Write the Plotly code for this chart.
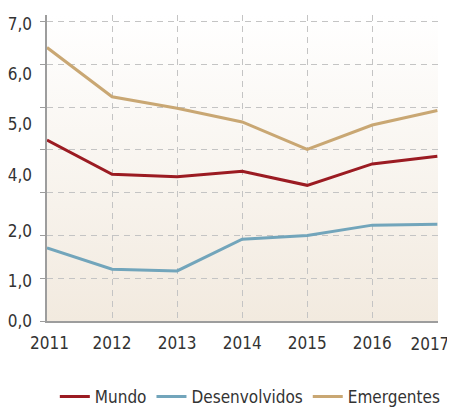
import base64
import plotly.graph_objects as go

# --- data ---
years = [2011, 2012, 2013, 2014, 2015, 2016, 2017]
mundo = [4.23, 3.43, 3.37, 3.50, 3.17, 3.67, 3.85]
desenvolvidos = [1.71, 1.21, 1.17, 1.91, 2.00, 2.24, 2.26]
emergentes = [6.39, 5.24, 4.97, 4.65, 4.01, 4.58, 4.92]

# the source prints its y labels slightly off the grid (and skips 3,0)
ylabel_pos = [6.93, 5.76, 4.61, 3.42, 2.10, 0.93, 0.0]
ylabel_text = ["7,0", "6,0", "5,0", "4,0", "2,0", "1,0", "0,0"]

NBSP = "\u00a0"
xtick_text = [str(y) for y in years]
xtick_text[0] = NBSP + xtick_text[0]

COLOR_MUNDO = "#9b1b22"
COLOR_DESENV = "#72a5bb"
COLOR_EMERG = "#c9a773"
COLOR_GRID = "#c4c4c4"
COLOR_AXIS = "#9d9d9d"
COLOR_TEXT = "#333333"
FONT = "DejaVu Sans Condensed"

# the page body keeps its default 8px margin, so the figure is sized to fit
PAGE_OFFSET = 8

# vertical white -> beige gradient for the plot background
svg = (
    '<svg xmlns="http://www.w3.org/2000/svg" width="10" height="100" preserveAspectRatio="none">'
    '<defs><linearGradient id="g" x1="0" y1="0" x2="0" y2="1">'
    '<stop offset="0" stop-color="#ffffff"/><stop offset="1" stop-color="#f2eadf"/>'
    '</linearGradient></defs><rect width="10" height="100" fill="url(#g)"/></svg>'
)
bg_src = "data:image/svg+xml;base64," + base64.b64encode(svg.encode()).decode()

fig = go.Figure()
for name, vals, color in [
    ("Mundo", mundo, COLOR_MUNDO),
    ("Desenvolvidos", desenvolvidos, COLOR_DESENV),
    ("Emergentes", emergentes, COLOR_EMERG),
]:
    fig.add_trace(go.Scatter(
        x=years, y=vals, mode="lines", name=name,
        line=dict(color=color, width=3),
        hoverinfo="skip",
    ))

# invisible traces carrying the offset y labels and the last year label
fig.add_trace(go.Scatter(x=[years[0]], y=[0], yaxis="y2", mode="markers",
                         marker=dict(opacity=0), showlegend=False, hoverinfo="skip"))
fig.add_trace(go.Scatter(x=[years[-1]], y=[0], xaxis="x2", mode="markers",
                         marker=dict(opacity=0), showlegend=False, hoverinfo="skip"))

xrange = [2011, 2017.01]
yrange = [0, 7.15]

fig.update_layout(
    width=455 - PAGE_OFFSET, height=409 - PAGE_OFFSET,
    margin=dict(l=47 - PAGE_OFFSET, r=17, t=15 - PAGE_OFFSET, b=88),
    paper_bgcolor="white",
    plot_bgcolor="rgba(0,0,0,0)",
    font=dict(family=FONT, color=COLOR_TEXT, size=17),
    showlegend=True,
    legend=dict(orientation="h", x=0.52, xanchor="center",
                yref="container", y=0.03, yanchor="middle",
                font=dict(size=17), itemwidth=30, traceorder="normal"),
    images=[dict(source=bg_src, xref="paper", yref="paper", x=0, y=1,
                 sizex=1, sizey=1, sizing="stretch", layer="below")],
    xaxis=dict(
        range=xrange, tickvals=years[:-1], ticktext=xtick_text[:-1],
        showline=True, linecolor=COLOR_AXIS, linewidth=2,
        showgrid=True, gridcolor=COLOR_GRID, griddash="6px,5px", gridwidth=1,
        ticks="", ticklabelstandoff=6, tickfont=dict(size=17),
        ticklabeloverflow="allow", automargin=False,
        zeroline=False, fixedrange=True,
    ),
    # 2017 sits at the right edge: right-aligned so it stays inside the page
    xaxis2=dict(
        overlaying="x", anchor="y", side="bottom", range=xrange,
        tickvals=years[-1:], ticktext=xtick_text[-1:],
        showline=False, showgrid=True, gridcolor=COLOR_GRID, griddash="6px,5px",
        ticks="", ticklabelstandoff=11, tickfont=dict(size=17),
        ticklabelposition="outside left", ticklabelshift=12,
        ticklabeloverflow="allow", automargin=False,
        zeroline=False, fixedrange=True,
    ),
    yaxis=dict(
        range=yrange, tickvals=[0, 1, 2, 3, 4, 5, 6, 7],
        showticklabels=False,
        showline=True, linecolor=COLOR_AXIS, linewidth=2,
        showgrid=True, gridcolor=COLOR_GRID, griddash="6px,5px", gridwidth=1,
        ticks="outside", ticklen=5, tickcolor=COLOR_AXIS, tickwidth=1,
        zeroline=False, fixedrange=True, automargin=False,
    ),
    yaxis2=dict(
        overlaying="y", side="left", range=yrange,
        tickvals=ylabel_pos, ticktext=ylabel_text,
        showgrid=False, showline=False, zeroline=False, ticks="",
        ticklabelstandoff=14, tickfont=dict(size=17), fixedrange=True,
        automargin=False,
    ),
)

fig.write_html("out.html")
